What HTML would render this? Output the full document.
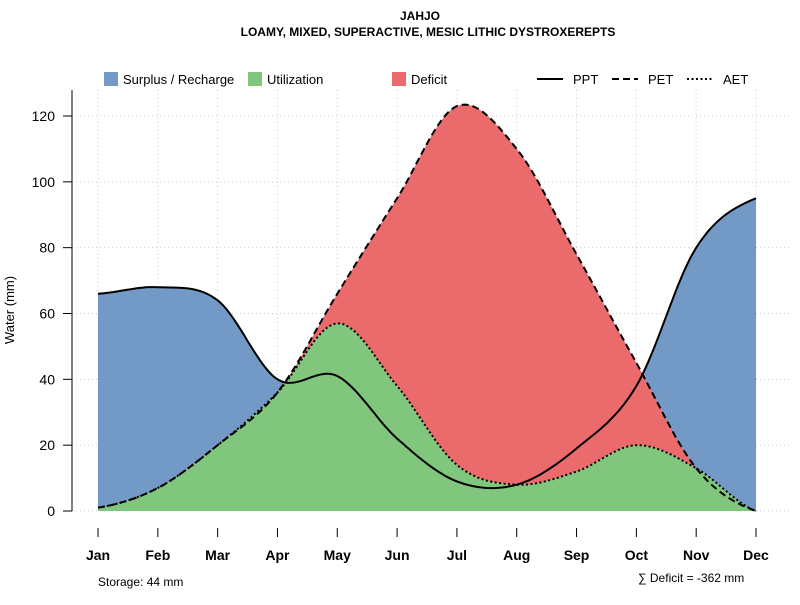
<!DOCTYPE html>
<html><head><meta charset="utf-8"><style>
body{margin:0;background:#fff;}
svg text{font-family:"Liberation Sans",sans-serif;}
</style></head><body>
<svg id="chart" width="800" height="600" viewBox="0 0 800 600" xmlns="http://www.w3.org/2000/svg">
<text x="420" y="20" text-anchor="middle" font-size="12" font-weight="bold">JAHJO</text>
<text x="428" y="36" text-anchor="middle" font-size="12" font-weight="bold">LOAMY, MIXED, SUPERACTIVE, MESIC LITHIC DYSTROXEREPTS</text>
<g id="grid"></g>
<g id="areas"></g>
<g id="lines"></g>
<g id="axes"></g>
<text transform="translate(14,310) rotate(-90)" text-anchor="middle" font-size="13">Water (mm)</text>
<g font-size="13">
<g><rect x="104" y="72" width="14" height="14" fill="#7399c6"/><text x="123" y="84">Surplus / Recharge</text></g>
<g><rect x="248" y="72" width="14" height="14" fill="#80c67c"/><text x="267" y="84">Utilization</text></g>
<g><rect x="392" y="72" width="14" height="14" fill="#eb6b6d"/><text x="411" y="84">Deficit</text></g>
<g><line x1="537" y1="79" x2="563" y2="79" stroke="#000" stroke-width="2"/><text x="573" y="84">PPT</text></g>
<g><line x1="612" y1="79" x2="638" y2="79" stroke="#000" stroke-width="2" stroke-dasharray="7,4"/><text x="648" y="84">PET</text></g>
<g><line x1="687" y1="79" x2="713" y2="79" stroke="#000" stroke-width="2" stroke-dasharray="2,2.5"/><text x="723" y="84">AET</text></g>
</g>
<text x="98" y="586" font-size="12">Storage: 44 mm</text>
<text x="638" y="582" font-size="12">∑ Deficit = -362 mm</text>
</svg>
<script>
const months=["Jan","Feb","Mar","Apr","May","Jun","Jul","Aug","Sep","Oct","Nov","Dec"];
const ppt=[66,68,64,40,41,22,9,8,19,38,80,95];
const pet=[1,7,20,36,66,95,123,110,78,45,13,0];
const aet=[1,7,20,36,57,38,14,8,12,20,13,0];
const yTicks=[0,20,40,60,80,100,120];
const NS="http://www.w3.org/2000/svg";
const X=i=>98+i*(756-98)/11;
const Y=v=>511-v*(511-116)/120;
function mk(tag,attrs,parent){const e=document.createElementNS(NS,tag);for(const k in attrs)e.setAttribute(k,attrs[k]);parent.appendChild(e);return e;}
function smooth(vals){const pts=[];const n=vals.length;
 for(let i=0;i<n-1;i++){const p0=vals[Math.max(i-1,0)],p1=vals[i],p2=vals[i+1],p3=vals[Math.min(i+2,n-1)];
  for(let s=0;s<20;s++){const t=s/20,t2=t*t,t3=t2*t;
   const v=0.5*((2*p1)+(-p0+p2)*t+(2*p0-5*p1+4*p2-p3)*t2+(-p0+3*p1-3*p2+p3)*t3);
   pts.push([X(i+t),Y(v)]);}}
 pts.push([X(n-1),Y(vals[n-1])]);return pts;}
function lineD(p){return "M"+p.map(q=>q[0].toFixed(1)+","+q[1].toFixed(1)).join("L");}
function areaD(p){return lineD(p)+"L"+X(11)+","+Y(0)+"L"+X(0)+","+Y(0)+"Z";}
const grid=document.getElementById("grid"),areas=document.getElementById("areas"),lines=document.getElementById("lines"),axes=document.getElementById("axes");
months.forEach((m,i)=>{const g=mk("line",{x1:X(i),x2:X(i),y1:90,y2:511,stroke:"#ccc","stroke-dasharray":"1,3"},grid);
 
 const t=mk("line",{x1:X(i),x2:X(i),y1:528,y2:537,stroke:"#000"},axes);
 
 const l=mk("text",{x:X(i),y:560,"text-anchor":"middle","font-size":"14","font-weight":"bold"},axes);l.textContent=m;
 });
yTicks.forEach(v=>{const g=mk("line",{x1:72,x2:790,y1:Y(v),y2:Y(v),stroke:"#ccc","stroke-dasharray":"1,3"},grid);
 
 const t=mk("line",{x1:63,x2:72,y1:Y(v),y2:Y(v),stroke:"#000"},axes);
 
 const l=mk("text",{x:55,y:Y(v)+5,"text-anchor":"end","font-size":"14"},axes);l.textContent=v;
 });
const ya=mk("line",{x1:72,x2:72,y1:90,y2:511,stroke:"#000"},axes);

const sp=smooth(ppt),se=smooth(pet),sa=smooth(aet);
const a1=mk("path",{d:areaD(sp),fill:"#7399c6"},areas);
const a2=mk("path",{d:areaD(se),fill:"#eb6b6d"},areas);
const a3=mk("path",{d:areaD(sa),fill:"#80c67c"},areas);
const l1=mk("path",{d:lineD(sp),fill:"none",stroke:"#000","stroke-width":2},lines);
const l2=mk("path",{d:lineD(se),fill:"none",stroke:"#000","stroke-width":2,"stroke-dasharray":"7,4"},lines);
const l3=mk("path",{d:lineD(sa),fill:"none",stroke:"#000","stroke-width":2,"stroke-dasharray":"2,2.5"},lines);
</script>
</body></html>
